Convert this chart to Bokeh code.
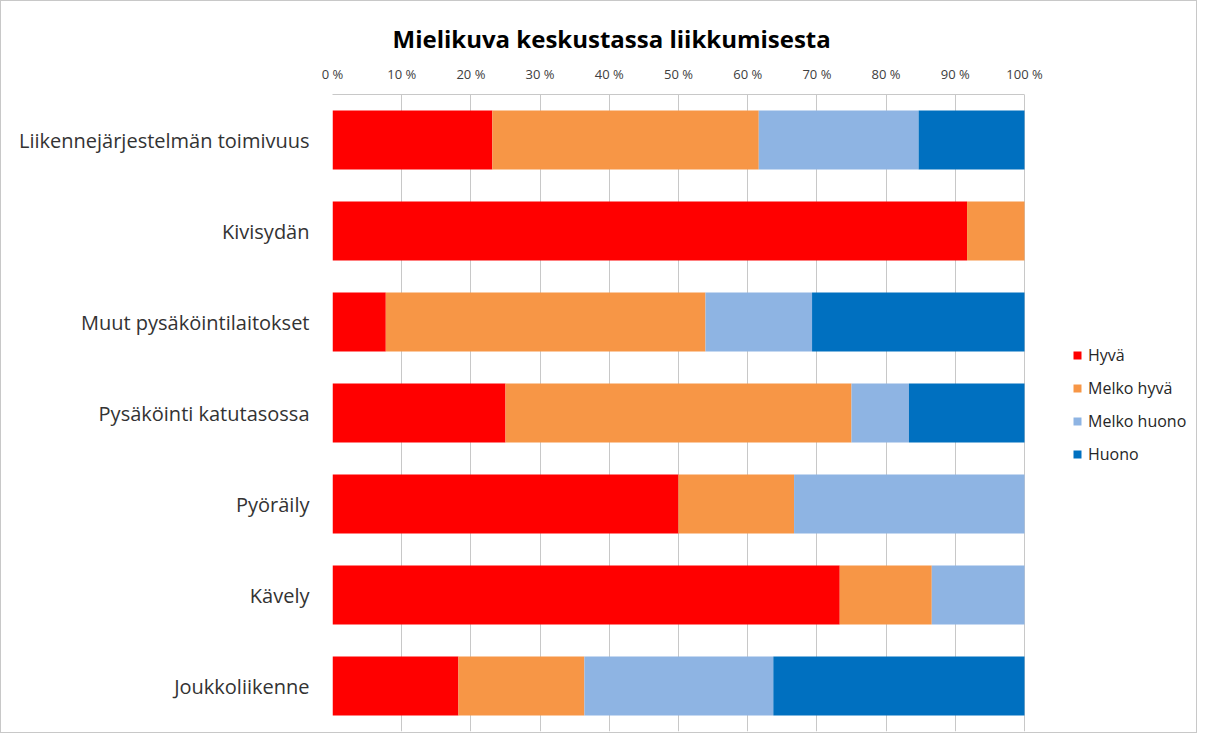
from bokeh.plotting import figure
from bokeh.models import (ColumnDataSource, FactorRange, Range1d, FixedTicker,
                          PrintfTickFormatter, Legend, LegendItem, Title)
from bokeh.embed import file_html
from bokeh.resources import INLINE

categories = ["Liikennejärjestelmän toimivuus", "Kivisydän", "Muut pysäköintilaitokset",
              "Pysäköinti katutasossa", "Pyöräily", "Kävely", "Joukkoliikenne"]
series = ["Hyvä", "Melko hyvä", "Melko huono", "Huono"]
hyva = [23.1, 91.7, 7.7, 25.0, 50.0, 73.3, 18.2]
melko_hyva = [38.5, 8.3, 46.2, 50.0, 16.7, 13.3, 18.2]
melko_huono = [23.1, 0.0, 15.4, 8.3, 33.3, 13.4, 27.3]
huono = [15.3, 0.0, 30.7, 16.7, 0.0, 0.0, 36.3]
colors = ["#FF0000", "#F79646", "#8EB4E3", "#0070C0"]
tick_values = [0, 10, 20, 30, 40, 50, 60, 70, 80, 90, 100]

FONT = "Open Sans"

source = ColumnDataSource(data=dict(
    cat=categories,
    s0=hyva, s1=melko_hyva, s2=melko_huono, s3=huono,
))

# frame spans to the right edge so the legend can sit beside the bars;
# 100 % lands at 692 px from the frame's left edge
W, H = 1197, 733
LEFT, RIGHT = 331, 4
x_max = 100.0 * (W - LEFT - RIGHT) / 692.0

p = figure(width=W, height=H, output_backend="svg", toolbar_location=None,
           y_range=FactorRange(factors=list(reversed(categories)), range_padding=0),
           x_range=Range1d(0, x_max), x_axis_location="above",
           min_border_left=LEFT, min_border_right=RIGHT, min_border_top=93,
           min_border_bottom=3)
p.outline_line_color = None
p.background_fill_color = "white"
p.border_fill_color = "white"

renderers = p.hbar_stack(["s0", "s1", "s2", "s3"], y="cat", height=0.65,
                         color=colors, source=source, line_color=None)

# axes
xa = p.xaxis[0]
xa.ticker = FixedTicker(ticks=tick_values)
xa.formatter = PrintfTickFormatter(format="%d %%")
xa.bounds = (0, 100)
xa.major_label_text_font = FONT
xa.major_label_text_font_size = "13px"
xa.major_label_text_color = "#404040"
xa.axis_line_color = "#C8C8C8"
xa.major_tick_line_color = None
xa.minor_tick_line_color = None
xa.major_label_standoff = 6

ya = p.yaxis[0]
ya.major_label_text_font = FONT
ya.major_label_text_font_size = "20px"
ya.major_label_text_color = "#333333"
ya.axis_line_color = None
ya.major_tick_line_color = None
ya.minor_tick_line_color = None
ya.major_label_standoff = 17

p.xgrid.grid_line_color = "#C8C8C8"
p.xgrid.ticker = FixedTicker(ticks=tick_values)
p.ygrid.grid_line_color = None

# title
title = Title(text="Mielikuva keskustassa liikkumisesta", align="left",
              text_font=FONT, text_font_size="24px", text_font_style="bold",
              text_color="#000000", offset=60, standoff=13)
p.add_layout(title, "above")

# legend
items = [LegendItem(label=s, renderers=[r]) for s, r in zip(series, renderers)]
legend = Legend(items=items, location=(740, 266), margin=0, padding=10,
                glyph_width=10, glyph_height=10, label_height=20, spacing=11,
                label_text_font=FONT, label_text_font_size="16px",
                label_text_color="#262626", border_line_color=None,
                background_fill_alpha=0, label_standoff=6)
p.add_layout(legend, "center")

p.styles = {"border": "1px solid #C8C8C8", "box-sizing": "border-box"}

open("out.html", "w").write(file_html(p, INLINE))
